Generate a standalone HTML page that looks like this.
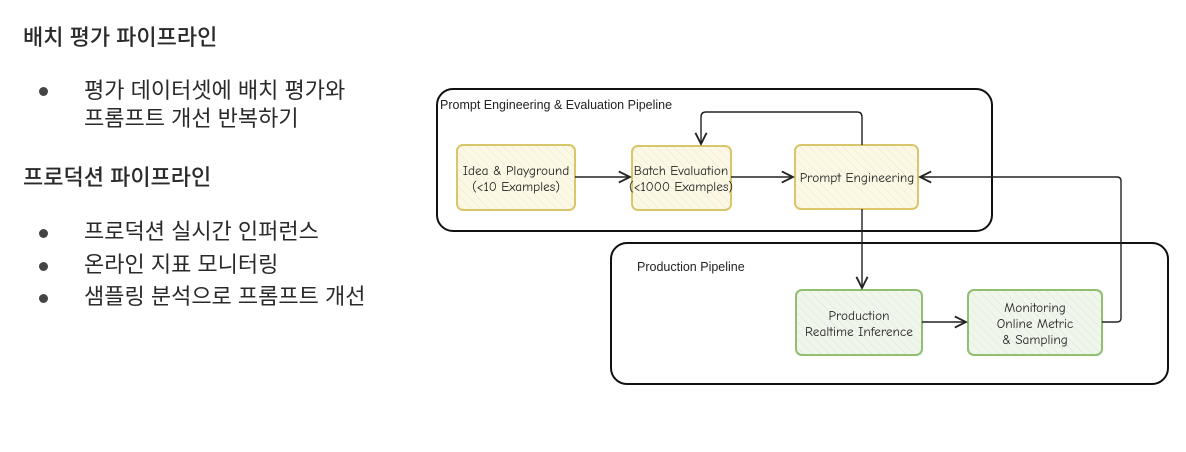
<!DOCTYPE html>
<html><head><meta charset="utf-8"><style>
body{margin:0;width:1186px;height:452px;background:#fff;font-family:"Liberation Sans","Noto Sans CJK KR",sans-serif;color:#2a2a2a;position:relative;overflow:hidden}
.t{position:absolute;font-size:22px;white-space:nowrap;line-height:26px}
.h{font-weight:500}
.dot{position:absolute;width:9px;height:9px;border-radius:50%;background:#444}
svg{position:absolute;left:0;top:0}
</style></head><body>
<div class="t h" style="left:23px;top:25px">배치 평가 파이프라인</div>
<div class="dot" style="left:39px;top:87px"></div>
<div class="t" style="left:84px;top:78px">평가 데이터셋에 배치 평가와</div>
<div class="t" style="left:84px;top:106px">프롬프트 개선 반복하기</div>
<div class="t h" style="left:23px;top:165px">프로덕션 파이프라인</div>
<div class="dot" style="left:39px;top:229px"></div>
<div class="t" style="left:84px;top:219px">프로덕션 실시간 인퍼런스</div>
<div class="dot" style="left:39px;top:262px"></div>
<div class="t" style="left:84px;top:252px">온라인 지표 모니터링</div>
<div class="dot" style="left:39px;top:294px"></div>
<div class="t" style="left:84px;top:284px">샘플링 분석으로 프롬프트 개선</div>
<svg width="1186" height="452" font-family="'Liberation Sans',sans-serif">
<defs>
<pattern id="hy" width="6" height="6" patternUnits="userSpaceOnUse" patternTransform="rotate(-45)"><rect width="6" height="6" fill="#fbf8e6"/><line x1="0" y1="0" x2="0" y2="6" stroke="#efe8c0" stroke-width="1"/></pattern>
<pattern id="hg" width="6" height="6" patternUnits="userSpaceOnUse" patternTransform="rotate(-45)"><rect width="6" height="6" fill="#f1f6ec"/><line x1="0" y1="0" x2="0" y2="6" stroke="#d9e6cf" stroke-width="1"/></pattern>
<marker id="a" markerWidth="10" markerHeight="10" refX="9" refY="5" orient="auto"><path d="M1,1 L9,5 L1,9" fill="none" stroke="#222" stroke-width="1.3"/></marker>
</defs>
<rect x="437" y="89" width="555" height="142" rx="16" fill="none" stroke="#111" stroke-width="2"/>
<rect x="611" y="243" width="557" height="141" rx="16" fill="none" stroke="#111" stroke-width="2"/>
<text x="440" y="109" font-size="12.5" fill="#222">Prompt Engineering &amp; Evaluation Pipeline</text>
<text x="637" y="271" font-size="12.5" fill="#222">Production Pipeline</text>
<g stroke-width="2">
<rect x="457" y="145" width="118" height="65" rx="6" fill="url(#hy)" stroke="#d9c66a"/>
<rect x="632" y="146" width="99" height="64" rx="6" fill="url(#hy)" stroke="#d9c66a"/>
<rect x="795" y="145" width="123" height="64" rx="6" fill="url(#hy)" stroke="#d9c66a"/>
<rect x="796" y="290" width="126" height="65" rx="6" fill="url(#hg)" stroke="#8fbf6f"/>
<rect x="968" y="290" width="134" height="65" rx="6" fill="url(#hg)" stroke="#8fbf6f"/>
</g>
<g font-family="'Comic Neue','DejaVu Sans',sans-serif" font-size="13.3" fill="#222" text-anchor="middle">
<text x="516" y="175">Idea &amp; Playground</text><text x="516" y="191">(&lt;10 Examples)</text>
<text x="681" y="175">Batch Evaluation</text><text x="681" y="191">(&lt;1000 Examples)</text>
<text x="857" y="182">Prompt Engineering</text>
<text x="859" y="320">Production</text><text x="859" y="336">Realtime Inference</text>
<text x="1035" y="312">Monitoring</text><text x="1035" y="328">Online Metric</text><text x="1035" y="344">&amp; Sampling</text>
</g>
<g fill="none" stroke="#222" stroke-width="1.4" marker-end="url(#a)">
<path d="M575 177 L630 177"/>
<path d="M731 177 L793 177"/>
<path d="M862 145 L862 117 Q862 112 857 112 L706 112 Q701 112 701 117 L701 144"/>
<path d="M862 209 L862 288"/>
<path d="M922 322 L966 322"/>
<path d="M1102 322 L1117 322 Q1121 322 1121 318 L1121 181 Q1121 177 1117 177 L920 177"/>
</g>
</svg>
</body></html>
